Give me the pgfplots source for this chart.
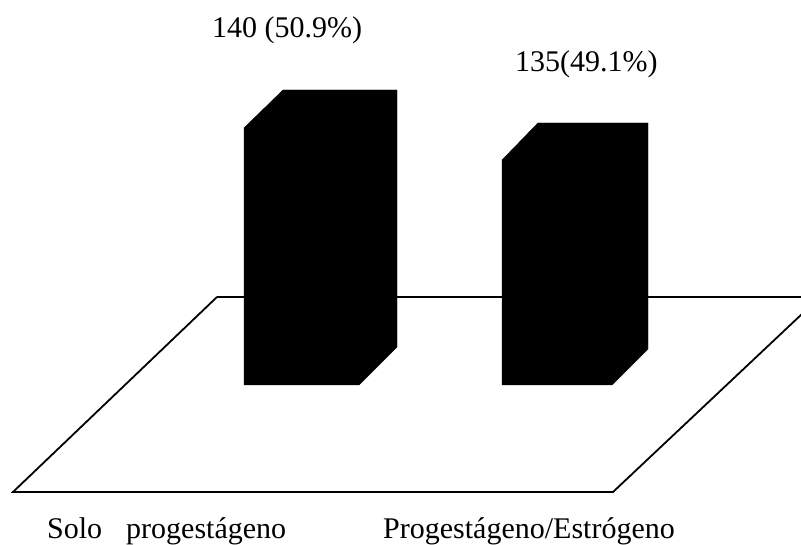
\documentclass[border=0pt]{standalone}
\usepackage{fontspec}
\setmainfont{Liberation Serif}
\usepackage{pgfplots}
\pgfplotsset{compat=1.18}
\tikzset{lab/.style={anchor=base west, inner sep=0pt,
    font=\fontsize{30}{32}\selectfont}}
\begin{document}
\begin{tikzpicture}
\useasboundingbox (0,0) rectangle (801pt,545pt);
\begin{axis}[
  at={(0,0)}, anchor=south west,
  scale only axis, width=801pt, height=545pt,
  xmin=0, xmax=801, ymin=71.06, ymax=153.636,
  hide axis, clip mode=individual,
]
% floor of the chart, running off the right-hand edge
\addplot[draw=black, line width=1.8pt, line join=miter, mark=none]
  coordinates {(217,108.636) (820,108.636) (613,79.09) (13,79.09) (217,108.636)};
% block for 140 cases
\addplot[fill=black, draw=black, line width=0.4pt, mark=none]
  coordinates {(244,95.303) (244,134.242) (283,140) (397,140) (397,101.06) (359,95.303) (244,95.303)};
% block for 135 cases
\addplot[fill=black, draw=black, line width=0.4pt, mark=none]
  coordinates {(502,95.303) (502,129.394) (538,135) (648,135) (648,100.758) (612,95.303) (502,95.303)};
\node[lab] at (axis cs:212,147.98) {140 (50.9\%)};
\node[lab] at (axis cs:515,142.82) {135(49.1\%)};
\node[lab] at (axis cs:47,71.97) {Solo\hspace{24pt}progestágeno};
\node[lab] at (axis cs:383,71.97) {Progestágeno/Estrógeno};
\end{axis}
\end{tikzpicture}
\end{document}
